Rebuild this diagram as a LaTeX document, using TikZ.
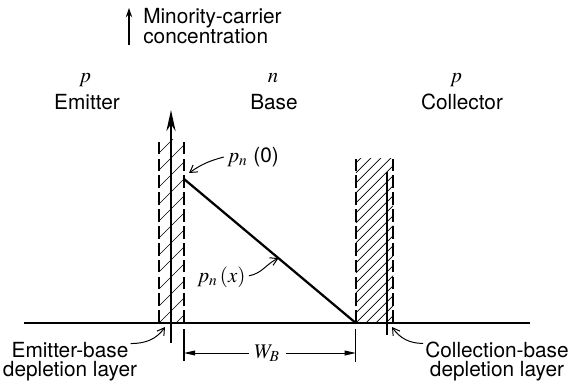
\documentclass[tikz,border=0pt]{standalone}
\usepackage{mathptmx}
\usepackage{fontspec}
\setmainfont{TeX Gyre Heros}
\usetikzlibrary{arrows.meta,positioning,calc}

\begin{document}
\begin{tikzpicture}[
    font=\fontsize{14.8}{14.6}\selectfont,
    txt/.style={inner sep=0pt},
    axisline/.style={line width=1.9pt},
    layeredge/.style={line width=1.1pt, dash pattern=on 9pt off 3pt},
    hatch/.style={line width=0.45pt},
    pointer/.style={-{Straight Barb[length=5pt,width=6pt]}, line width=0.7pt},
    dimarr/.style={-{Triangle[length=8pt,width=3.5pt]}, line width=0.7pt}
]
\useasboundingbox (-4.275,-1.475) rectangle (10.025,8.075);

% hatched depletion layers
\begin{scope}
\clip (-0.3,0) rectangle (0.325,4.575);
\foreach \k in {-2,...,11}
  \draw[hatch] (-0.3,\k*0.425) -- ++(0.8,0.8);
\end{scope}
\begin{scope}
\clip (4.62,0) rectangle (5.55,4.125);
\foreach \k in {-4,...,17}
  \draw[hatch] (4.62,\k*0.25) -- ++(1.2,1.2);
\end{scope}
\draw[layeredge] (-0.3,0) -- (-0.3,4.575);
\draw[layeredge] (0.325,0) -- (0.325,4.575);
\draw[layeredge] (4.62,0) -- (4.62,4.125);
\draw[layeredge] (5.55,0) -- (5.55,4.125);

% axes
\coordinate (xl) at (-3.675,0);
\coordinate (xr) at (8.975,0);
\coordinate (ybot) at (0,-0.5);
\coordinate (ytop) at (0,5.325);
\draw[line width=1.3pt] (xl) -- (xr);
\draw[axisline, -{Stealth[length=15pt,width=6.5pt]}] (ybot) -- (ytop);
\draw[axisline] (5.4,-0.3) -- (5.4,3.775);

% carrier profile
\coordinate (pn0) at (0.325,3.6);
\coordinate (xc) at (4.62,0);
\coordinate (pnx) at ($(pn0)!0.55!(xc)$);
\draw[line width=1.6pt] (pn0) -- (xc);

% region labels
\node[txt, anchor=base] (emitter) at (-2.1,5.325) {Emitter};
\node[txt, anchor=base] (base) at (2.575,5.325) {Base};
\node[txt, anchor=base] (collector) at (7.275,5.325) {Collector};
\node[txt, anchor=base] (pe) at (-2.15,6.0) {$p$};
\node[txt, anchor=base] (nb) at (2.55,6.0) {$n$};
\node[txt, anchor=base] (pc) at (7.125,6.0) {$p$};

% vertical axis label
\node[txt, anchor=north west, align=left] (conc) at (-0.7,7.875) {Minority-carrier\\concentration};
\coordinate (ca) at (-1.05,6.95);
\coordinate (cb) at (-1.05,7.875);
\draw[line width=1.2pt, -{Stealth[length=6.5pt,width=4.5pt]}] (ca) -- (cb);

% profile labels
\node[txt, anchor=west] (lbl0) at (1.4,4.15) {$p_n$ (0)};
\coordinate (tip0) at (0.45,3.75);
\draw[pointer] (lbl0.west) ++(-0.08,0) to[out=195,in=35] (tip0);
\node[txt, anchor=west] (lblx) at (0.65,1.15) {$p_n\,(x)$};
\draw[pointer] (lblx.east) ++(0.08,0.03) to[out=10,in=205] (pnx);

% depletion layer labels
\node[txt, anchor=base] (eb1) at (-2.525,-0.85) {Emitter-base};
\node[txt, anchor=base] (eb2) at (-2.525,-1.325) {depletion layer};
\coordinate (ebj) at (-0.15,-0.1);
\draw[pointer] (eb1.east) ++(0.05,0.15) to[out=0,in=-125] (ebj);
\node[txt, anchor=base] (cb1) at (8.15,-0.85) {Collection-base};
\node[txt, anchor=base] (cb2) at (8.15,-1.325) {depletion layer};
\coordinate (cbj) at (5.525,-0.1);
\draw[pointer] (cb1.west) ++(-0.05,0.15) to[out=180,in=-55] (cbj);

% base width
\draw[line width=0.8pt] (0.325,-0.15) -- (0.325,-0.95);
\draw[line width=0.8pt] (4.62,-0.15) -- (4.62,-0.975);
\node[txt] (wb) at (2.4,-0.75) {$W_B$};
\coordinate (wbl) at (0.325,-0.75);
\coordinate (wbr) at (4.62,-0.75);
\draw[dimarr] (wb.west) ++(-0.12,0) -- (wbl);
\draw[dimarr] (wb.east) ++(0.15,0) -- (wbr);
\end{tikzpicture}
\end{document}
